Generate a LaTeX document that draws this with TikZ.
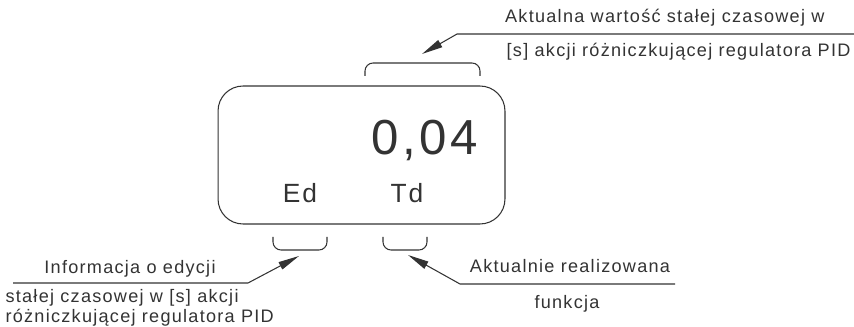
\documentclass[tikz,border=0pt]{standalone}
\usepackage{fontspec}
\setmainfont{Liberation Sans}
\newfontfamily\cadfont[LetterSpace=7]{Liberation Sans}
\usepackage{tikz}
\usetikzlibrary{arrows.meta,positioning}

\begin{document}
\begin{tikzpicture}[
      x=0.02cm, y=-0.02cm,
      color=black!80, line width=0.6pt,
      disp/.style={rectangle, draw, rounded corners=0.5cm,
                   minimum width=5.74cm, minimum height=2.76cm, inner sep=0pt},
      bigval/.style={font=\cadfont\fontsize{28}{28}\selectfont, inner sep=0pt, anchor=base},
      code/.style={font=\cadfont\fontsize{15}{15}\selectfont, inner sep=0pt, anchor=base},
      lbl/.style={font=\cadfont\fontsize{10.3}{12}\selectfont, inner sep=0pt, anchor=base},
      brace/.style={rounded corners=1.6mm},
      lead/.style={-{Triangle[length=4.2mm,width=1.6mm]}},
    ]
    \useasboundingbox (0,0) rectangle (854,327);

    % Display
    \node[disp] (disp) at (361.5,155) {};
    \node[bigval] (val) at (425,155) {0,04};
    \node[code] (ed) at (300,203) {Ed};
    \node[code] (td) at (407,203) {Td};

    % Brackets
    \draw[brace] (365,76) -- (365,63) -- (480,63) -- (480,76);
    \draw[brace] (273,237) -- (273,250) -- (327,250) -- (327,237);
    \draw[brace] (383,237) -- (383,250) -- (427,250) -- (427,237);

    % Top label
    \node[lbl, anchor=base east] (topa) at (825,23) {Aktualna wartość stałej czasowej w};
    \node[lbl, anchor=base east] (topb) at (851,57) {[s] akcji różniczkującej regulatora PID};
    \coordinate (tipT)  at (422,54);
    \coordinate (kneeT) at (457,34);
    \coordinate (endT)  at (854,34);
    \draw[lead] (endT) -- (kneeT) -- (tipT);

    % Bottom left label
    \node[lbl] (infa) at (130,274) {Informacja o edycji};
    \node[lbl, anchor=base west] (infb) at (5,302) {stałej czasowej w [s] akcji};
    \node[lbl, anchor=base west] (infc) at (5,322) {różniczkującej regulatora PID};
    \coordinate (tipL)  at (299,256);
    \coordinate (kneeL) at (248,283);
    \coordinate (endL)  at (13,283);
    \draw[lead] (endL) -- (kneeL) -- (tipL);

    % Bottom right label
    \node[lbl] (funa) at (570,273) {Aktualnie realizowana};
    \node[lbl] (funb) at (567,308) {funkcja};
    \coordinate (tipR)  at (408,255);
    \coordinate (kneeR) at (460,284);
    \coordinate (endR)  at (675,284);
    \draw[lead] (endR) -- (kneeR) -- (tipR);

    \end{tikzpicture}
\end{document}
